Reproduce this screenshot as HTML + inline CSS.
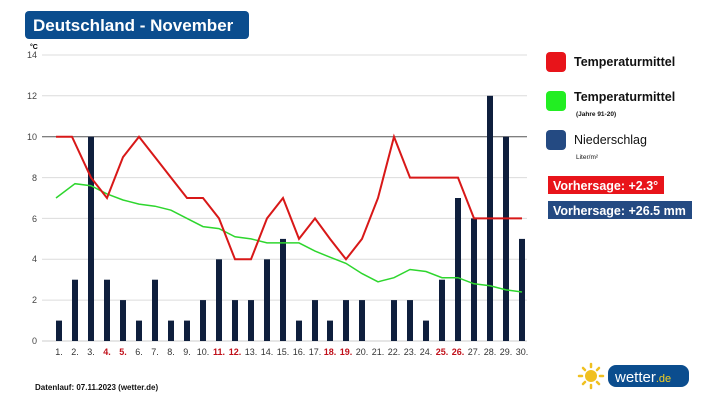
<!DOCTYPE html>
<html><head><meta charset="utf-8"><style>
body{margin:0;background:#fff;width:717px;height:403px;overflow:hidden;font-family:"Liberation Sans",sans-serif}
svg{display:block}
</style></head><body>
<svg width="717" height="403" xmlns="http://www.w3.org/2000/svg" font-family="Liberation Sans, sans-serif">
<rect x="25" y="11" width="224" height="28" rx="4" fill="#0b4d8e"/>
<text x="33" y="31" font-size="17" font-weight="bold" fill="#fff">Deutschland - November</text>
<text x="30" y="49" font-size="7" font-weight="bold" fill="#000">°C</text>
<g stroke="#dcdcdc" stroke-width="1">
<line x1="42" y1="55" x2="527" y2="55"/><line x1="42" y1="95.8" x2="527" y2="95.8"/>
<line x1="42" y1="177.6" x2="527" y2="177.6"/><line x1="42" y1="218.4" x2="527" y2="218.4"/>
<line x1="42" y1="259.3" x2="527" y2="259.3"/><line x1="42" y1="300.1" x2="527" y2="300.1"/>
</g>
<line x1="42" y1="136.7" x2="527" y2="136.7" stroke="#555"/>
<line x1="42" y1="341" x2="527" y2="341" stroke="#ccc"/>
<g font-size="9" fill="#444" text-anchor="end">
<text x="37" y="58">14</text><text x="37" y="99">12</text><text x="37" y="140">10</text>
<text x="37" y="181">8</text><text x="37" y="222">6</text><text x="37" y="262">4</text>
<text x="37" y="303">2</text><text x="37" y="344">0</text>
</g>
<g fill="#0f1f3d">
<rect x="56" y="320.6" width="6" height="20.4"/><rect x="72" y="279.7" width="6" height="61.3"/>
<rect x="88" y="136.7" width="6" height="204.3"/><rect x="104" y="279.7" width="6" height="61.3"/>
<rect x="120" y="300.1" width="6" height="40.9"/><rect x="136" y="320.6" width="6" height="20.4"/>
<rect x="152" y="279.7" width="6" height="61.3"/><rect x="168" y="320.6" width="6" height="20.4"/>
<rect x="184" y="320.6" width="6" height="20.4"/><rect x="200" y="300.1" width="6" height="40.9"/>
<rect x="216" y="259.3" width="6" height="81.7"/><rect x="232" y="300.1" width="6" height="40.9"/>
<rect x="248" y="300.1" width="6" height="40.9"/><rect x="264" y="259.3" width="6" height="81.7"/>
<rect x="280" y="238.9" width="6" height="102.1"/><rect x="296" y="320.6" width="6" height="20.4"/>
<rect x="312" y="300.1" width="6" height="40.9"/><rect x="327" y="320.6" width="6" height="20.4"/>
<rect x="343" y="300.1" width="6" height="40.9"/><rect x="359" y="300.1" width="6" height="40.9"/>
<rect x="391" y="300.1" width="6" height="40.9"/><rect x="407" y="300.1" width="6" height="40.9"/>
<rect x="423" y="320.6" width="6" height="20.4"/><rect x="439" y="279.7" width="6" height="61.3"/>
<rect x="455" y="198" width="6" height="143"/><rect x="471" y="218.4" width="6" height="122.6"/>
<rect x="487" y="95.8" width="6" height="245.2"/><rect x="503" y="136.7" width="6" height="204.3"/>
<rect x="519" y="238.9" width="6" height="102.1"/>
</g>
<polyline fill="none" stroke="#2ed62e" stroke-width="1.5" points="56,198 75,183.7 91,185.7 107,193.9 123,200 139,204.1 155,206.2 171,210.2 187,218.4 203,226.6 219,228.6 235,236.8 251,238.9 267,242.9 283,242.9 299,242.9 315,251.1 330,257.2 346,263.4 362,273.6 378,281.8 394,277.7 410,269.5 426,271.5 442,277.7 458,277.7 474,283.8 490,285.8 506,289.9 522,292"/>
<polyline fill="none" stroke="#d81818" stroke-width="2" points="56,136.7 72,136.7 91,177.6 107,198 123,157.1 139,136.7 155,157.1 171,177.6 187,198 203,198 219,218.4 235,259.3 251,259.3 267,218.4 283,198 299,238.9 315,218.4 330,238.9 346,259.3 362,238.9 378,198 394,136.7 410,177.6 426,177.6 442,177.6 458,177.6 474,218.4 490,218.4 506,218.4 522,218.4"/>
<g font-size="9" fill="#333" text-anchor="middle">
<text x="59" y="355">1.</text><text x="75" y="355">2.</text><text x="91" y="355">3.</text>
<text x="107" y="355" fill="#c0101a" font-weight="bold">4.</text><text x="123" y="355" fill="#c0101a" font-weight="bold">5.</text>
<text x="139" y="355">6.</text><text x="155" y="355">7.</text><text x="171" y="355">8.</text><text x="187" y="355">9.</text>
<text x="203" y="355">10.</text><text x="219" y="355" fill="#c0101a" font-weight="bold">11.</text><text x="235" y="355" fill="#c0101a" font-weight="bold">12.</text>
<text x="251" y="355">13.</text><text x="267" y="355">14.</text><text x="283" y="355">15.</text><text x="299" y="355">16.</text><text x="315" y="355">17.</text>
<text x="330" y="355" fill="#c0101a" font-weight="bold">18.</text><text x="346" y="355" fill="#c0101a" font-weight="bold">19.</text>
<text x="362" y="355">20.</text><text x="378" y="355">21.</text><text x="394" y="355">22.</text><text x="410" y="355">23.</text><text x="426" y="355">24.</text>
<text x="442" y="355" fill="#c0101a" font-weight="bold">25.</text><text x="458" y="355" fill="#c0101a" font-weight="bold">26.</text>
<text x="474" y="355">27.</text><text x="490" y="355">28.</text><text x="506" y="355">29.</text><text x="522" y="355">30.</text>
</g>
<text x="35" y="390" font-size="8" font-weight="bold" fill="#111">Datenlauf: 07.11.2023 (wetter.de)</text>
<rect x="546" y="52" width="20" height="20" rx="4" fill="#e8141a"/>
<text x="574" y="66" font-size="12.5" font-weight="bold" fill="#111">Temperaturmittel</text>
<rect x="546" y="91" width="20" height="20" rx="4" fill="#22ee22"/>
<text x="574" y="101" font-size="12.5" font-weight="bold" fill="#111">Temperaturmittel</text>
<text x="576" y="116" font-size="6.5" font-weight="bold" fill="#111">(Jahre 91-20)</text>
<rect x="546" y="130" width="20" height="20" rx="4" fill="#244a82"/>
<text x="574" y="144" font-size="12.5" fill="#111">Niederschlag</text>
<text x="576" y="159" font-size="6.5" fill="#111">Liter/m²</text>
<rect x="548" y="176" width="116" height="18" fill="#e8141a"/>
<text x="553" y="190" font-size="12.5" font-weight="bold" fill="#fff">Vorhersage: +2.3°</text>
<rect x="548" y="201" width="144" height="18" fill="#244a82"/>
<text x="553" y="215" font-size="12.5" font-weight="bold" fill="#fff">Vorhersage: +26.5 mm</text>
<g stroke="#f0c020" stroke-width="2.5" stroke-linecap="round">
<line x1="591" y1="364" x2="591" y2="367"/><line x1="591" y1="385" x2="591" y2="388"/>
<line x1="579" y1="376" x2="582" y2="376"/><line x1="600" y1="376" x2="603" y2="376"/>
<line x1="583" y1="368" x2="585" y2="370"/><line x1="597" y1="382" x2="599" y2="384"/>
<line x1="583" y1="384" x2="585" y2="382"/><line x1="597" y1="370" x2="599" y2="368"/>
</g>
<circle cx="591" cy="376" r="6" fill="#f0c020"/>
<rect x="608" y="365" width="81" height="22" rx="8" fill="#0b4d8e"/>
<text x="615" y="382" font-size="15" fill="#fff">wetter<tspan fill="#f5d020" font-size="11">.de</tspan></text>
</svg>
</body></html>
